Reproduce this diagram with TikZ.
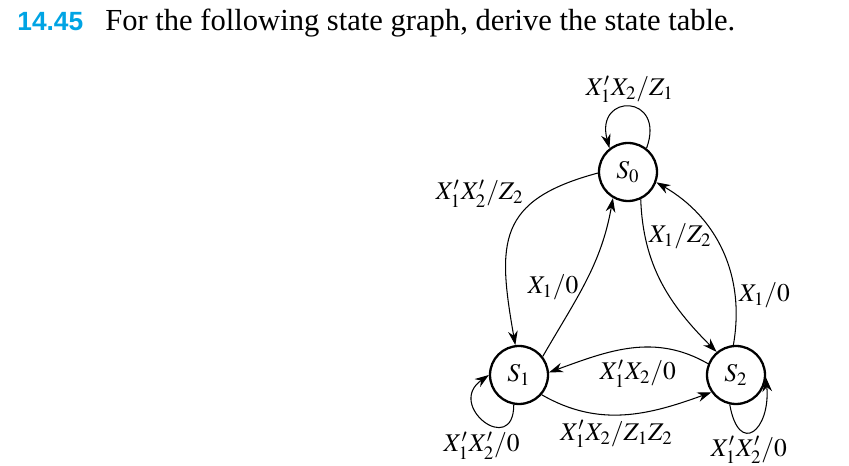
\documentclass[tikz,border=0pt]{standalone}
\usepackage{mathptmx}
\usepackage{fontspec}
\setmainfont{Liberation Serif}
\newfontfamily\numfont{Liberation Sans}
\usepackage{xcolor}
\usetikzlibrary{arrows.meta,positioning}
\definecolor{probblue}{RGB}{0,164,228}
\tikzset{
  state/.style={draw, circle, line width=1.3pt, minimum size=1.16cm, inner sep=0pt, font=\fontsize{14.5}{17}\selectfont},
  trans/.style={-{Stealth[length=8pt,width=5.5pt]}, line width=0.6pt},
  lbl/.style={font=\fontsize{14.5}{17}\selectfont, inner sep=2pt}
}
\begin{document}
\begin{tikzpicture}[x=0.02cm, y=0.02cm]
  \useasboundingbox (0,0) rectangle (849,466);
  % heading
  \node[anchor=base west, inner sep=0pt, font=\numfont\bfseries\fontsize{15}{18}\selectfont, text=probblue] (num) at (17,435) {14.45};
  \node[anchor=base west, inner sep=0pt, font=\fontsize{17.4}{20}\selectfont] (task) at (105,435) {For the following state graph, derive the state table.};

  % states
  \node[state] (s0) at (628,294) {$S_0$};
  \node[state] (s1) at (519,91) {$S_1$};
  \node[state] (s2) at (736,91) {$S_2$};

  % loops
  \draw[trans] (s0.52) to[out=70,in=105,looseness=4] node[lbl, above]{$X_1'X_2/Z_1$} (s0.128);
  \draw[trans] (s1.-100) to[out=-90,in=215,looseness=3.5] node[lbl, pos=0.55, below=6pt]{$X_1'X_2'/0$} (s1.180);
  \draw[trans] (s2.-102) to[out=-80,in=-85,looseness=3] node[lbl, pos=0.42, below=0pt]{$X_1'X_2'/0$} (s2.-5);

  % transitions between states
  \draw[trans] (s0.182) to[out=195,in=100,looseness=1.4] node[lbl, pos=0.22, left=10pt]{$X_1'X_2'/Z_2$} (s1.97);
  \draw[trans] (s1.38) to[out=60,in=-100] node[lbl, pos=0.45, left]{$X_1/0$} (s0.-120);
  \draw[trans] (s0.-65) to[out=-88,in=135] node[lbl, pos=0.2, right]{$X_1/Z_2$} (s2.130);
  \draw[trans] (s2.95) to[out=80,in=-30] node[lbl, pos=0.25, right]{$X_1/0$} (s0.-20);
  \draw[trans] (s2.158) to[out=150,in=20] node[lbl, pos=0.45, below=5pt]{$X_1'X_2/0$} (s1.5);
  \draw[trans] (s1.-41) to[out=-30,in=200] node[lbl, pos=0.45, below=1pt]{$X_1'X_2/Z_1Z_2$} (s2.-145);
\end{tikzpicture}
\end{document}
